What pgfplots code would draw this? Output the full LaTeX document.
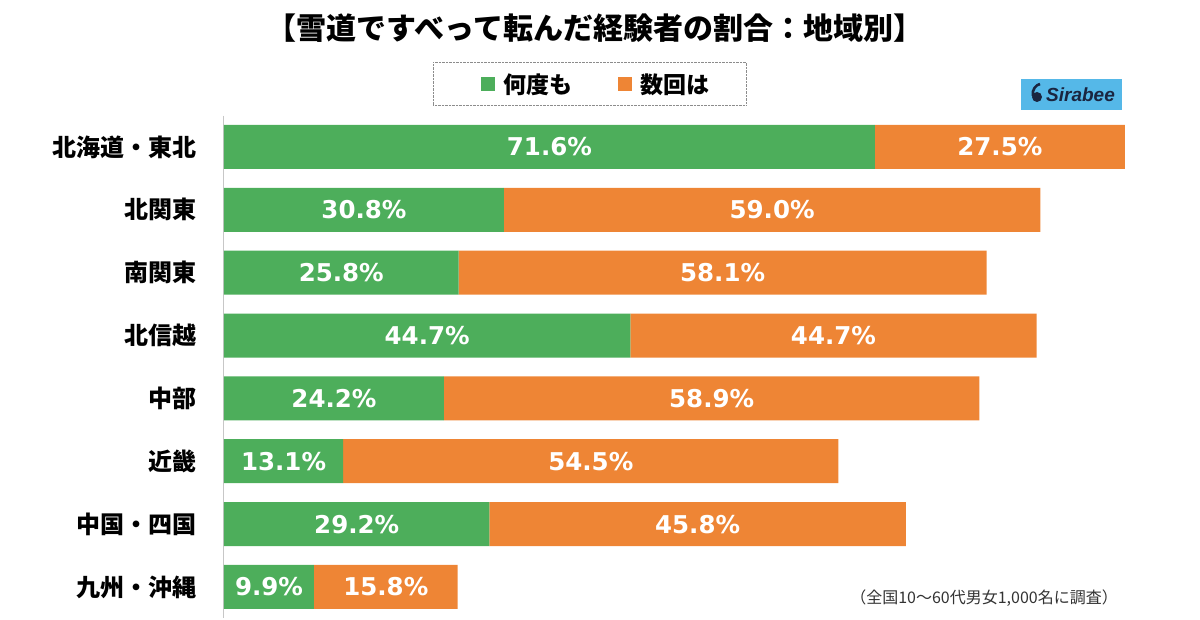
\documentclass[border=0pt]{standalone}
\usepackage{fontspec}
\usepackage{pgfplots}
\usepackage{pgfplotstable}
\pgfplotsset{compat=1.18}
\setmainfont{Noto Sans CJK JP}
\newfontfamily\jp{Noto Sans CJK JP}
\newfontfamily\jpk{Noto Sans CJK JP Black}
\newfontfamily\lbl{DejaVu Sans}
\newfontfamily\logo{Liberation Sans}
\definecolor{cgreen}{HTML}{4DAE5B}
\definecolor{corange}{HTML}{EE8535}
\definecolor{clogo}{HTML}{55B8E8}
\definecolor{cnavy}{HTML}{1A2540}
\pgfplotstableread{
idx g o
0 71.6 27.5
1 30.8 59.0
2 25.8 58.1
3 44.7 44.7
4 24.2 58.9
5 13.1 54.5
6 29.2 45.8
7 9.9 15.8
}\data
\begin{document}
\begin{tikzpicture}
\useasboundingbox (0pt,0pt) rectangle (1200pt,620pt);
\node[font=\jpk\fontsize{30}{30}\selectfont, anchor=center] at (595pt,592pt) {【雪道ですべって転んだ経験者の割合：地域別】};
\begin{axis}[
  at={(224pt,1.6pt)}, anchor=south west,
  scale only axis, width=909pt, height=502.9pt,
  xmin=0, xmax=100, ymin=-0.5, ymax=7.5,
  y dir=reverse,
  xbar stacked, bar width=44pt,
  axis x line=none, axis y line*=left,
  y axis line style={draw=black!22, line width=1pt},
  ytick={0,...,7},
  yticklabels={北海道・東北,北関東,南関東,北信越,中部,近畿,中国・四国,九州・沖縄},
  yticklabel style={font=\jpk\fontsize{24}{24}\selectfont, anchor=east, inner sep=0pt, xshift=-27pt},
  major tick length=0pt,
  clip=false,
  /pgf/number format/assume math mode=true,
  legend style={at={(rel axis cs:0.4026,1.0626)}, anchor=center, draw=black!45, densely dotted,
    font=\jpk\fontsize{23}{23}\selectfont, inner xsep=35pt, inner ysep=9pt,
    /tikz/every even column/.append style={column sep=31pt}},
  legend columns=2,
  legend image code/.code={\path (-13pt,0pt); \fill[#1] (0pt,-7pt) rectangle (14pt,7pt); \path (20pt,0pt);},
  nodes near coords={\pgfmathprintnumber[fixed,fixed zerofill,precision=1,assume math mode=true]{\pgfplotspointmeta}\%},
  every node near coord/.append style={font=\lbl\bfseries\fontsize{24.5}{24.5}\selectfont, text=white, anchor=center},
]
\addplot[fill=cgreen, draw=none] table[x=g, y=idx, meta=g] {\data};
\addplot[fill=corange, draw=none] table[x=o, y=idx, meta=o] {\data};
\legend{何度も,数回は}
\end{axis}
% logo
\fill[clogo] (1021pt,510pt) rectangle (1122pt,541pt);
\fill[cnavy] (1037pt,523pt) circle (5pt);
\draw[cnavy, line width=2.6pt] (1037pt,523pt) ++(-4.2pt,1pt) .. controls (1032pt,531pt) and (1036pt,535pt) .. (1040pt,536pt);
\node[font=\logo\bfseries\itshape\fontsize{19}{19}\selectfont, text=cnavy, anchor=west, inner sep=0pt] at (1046pt,525pt) {Sirabee};
% note
\node[font=\jp\fontsize{16}{16}\selectfont, text=black!80, anchor=east, inner sep=0pt] at (1118pt,22pt) {（全国10〜60代男女1,000名に調査）};
\end{tikzpicture}
\end{document}
